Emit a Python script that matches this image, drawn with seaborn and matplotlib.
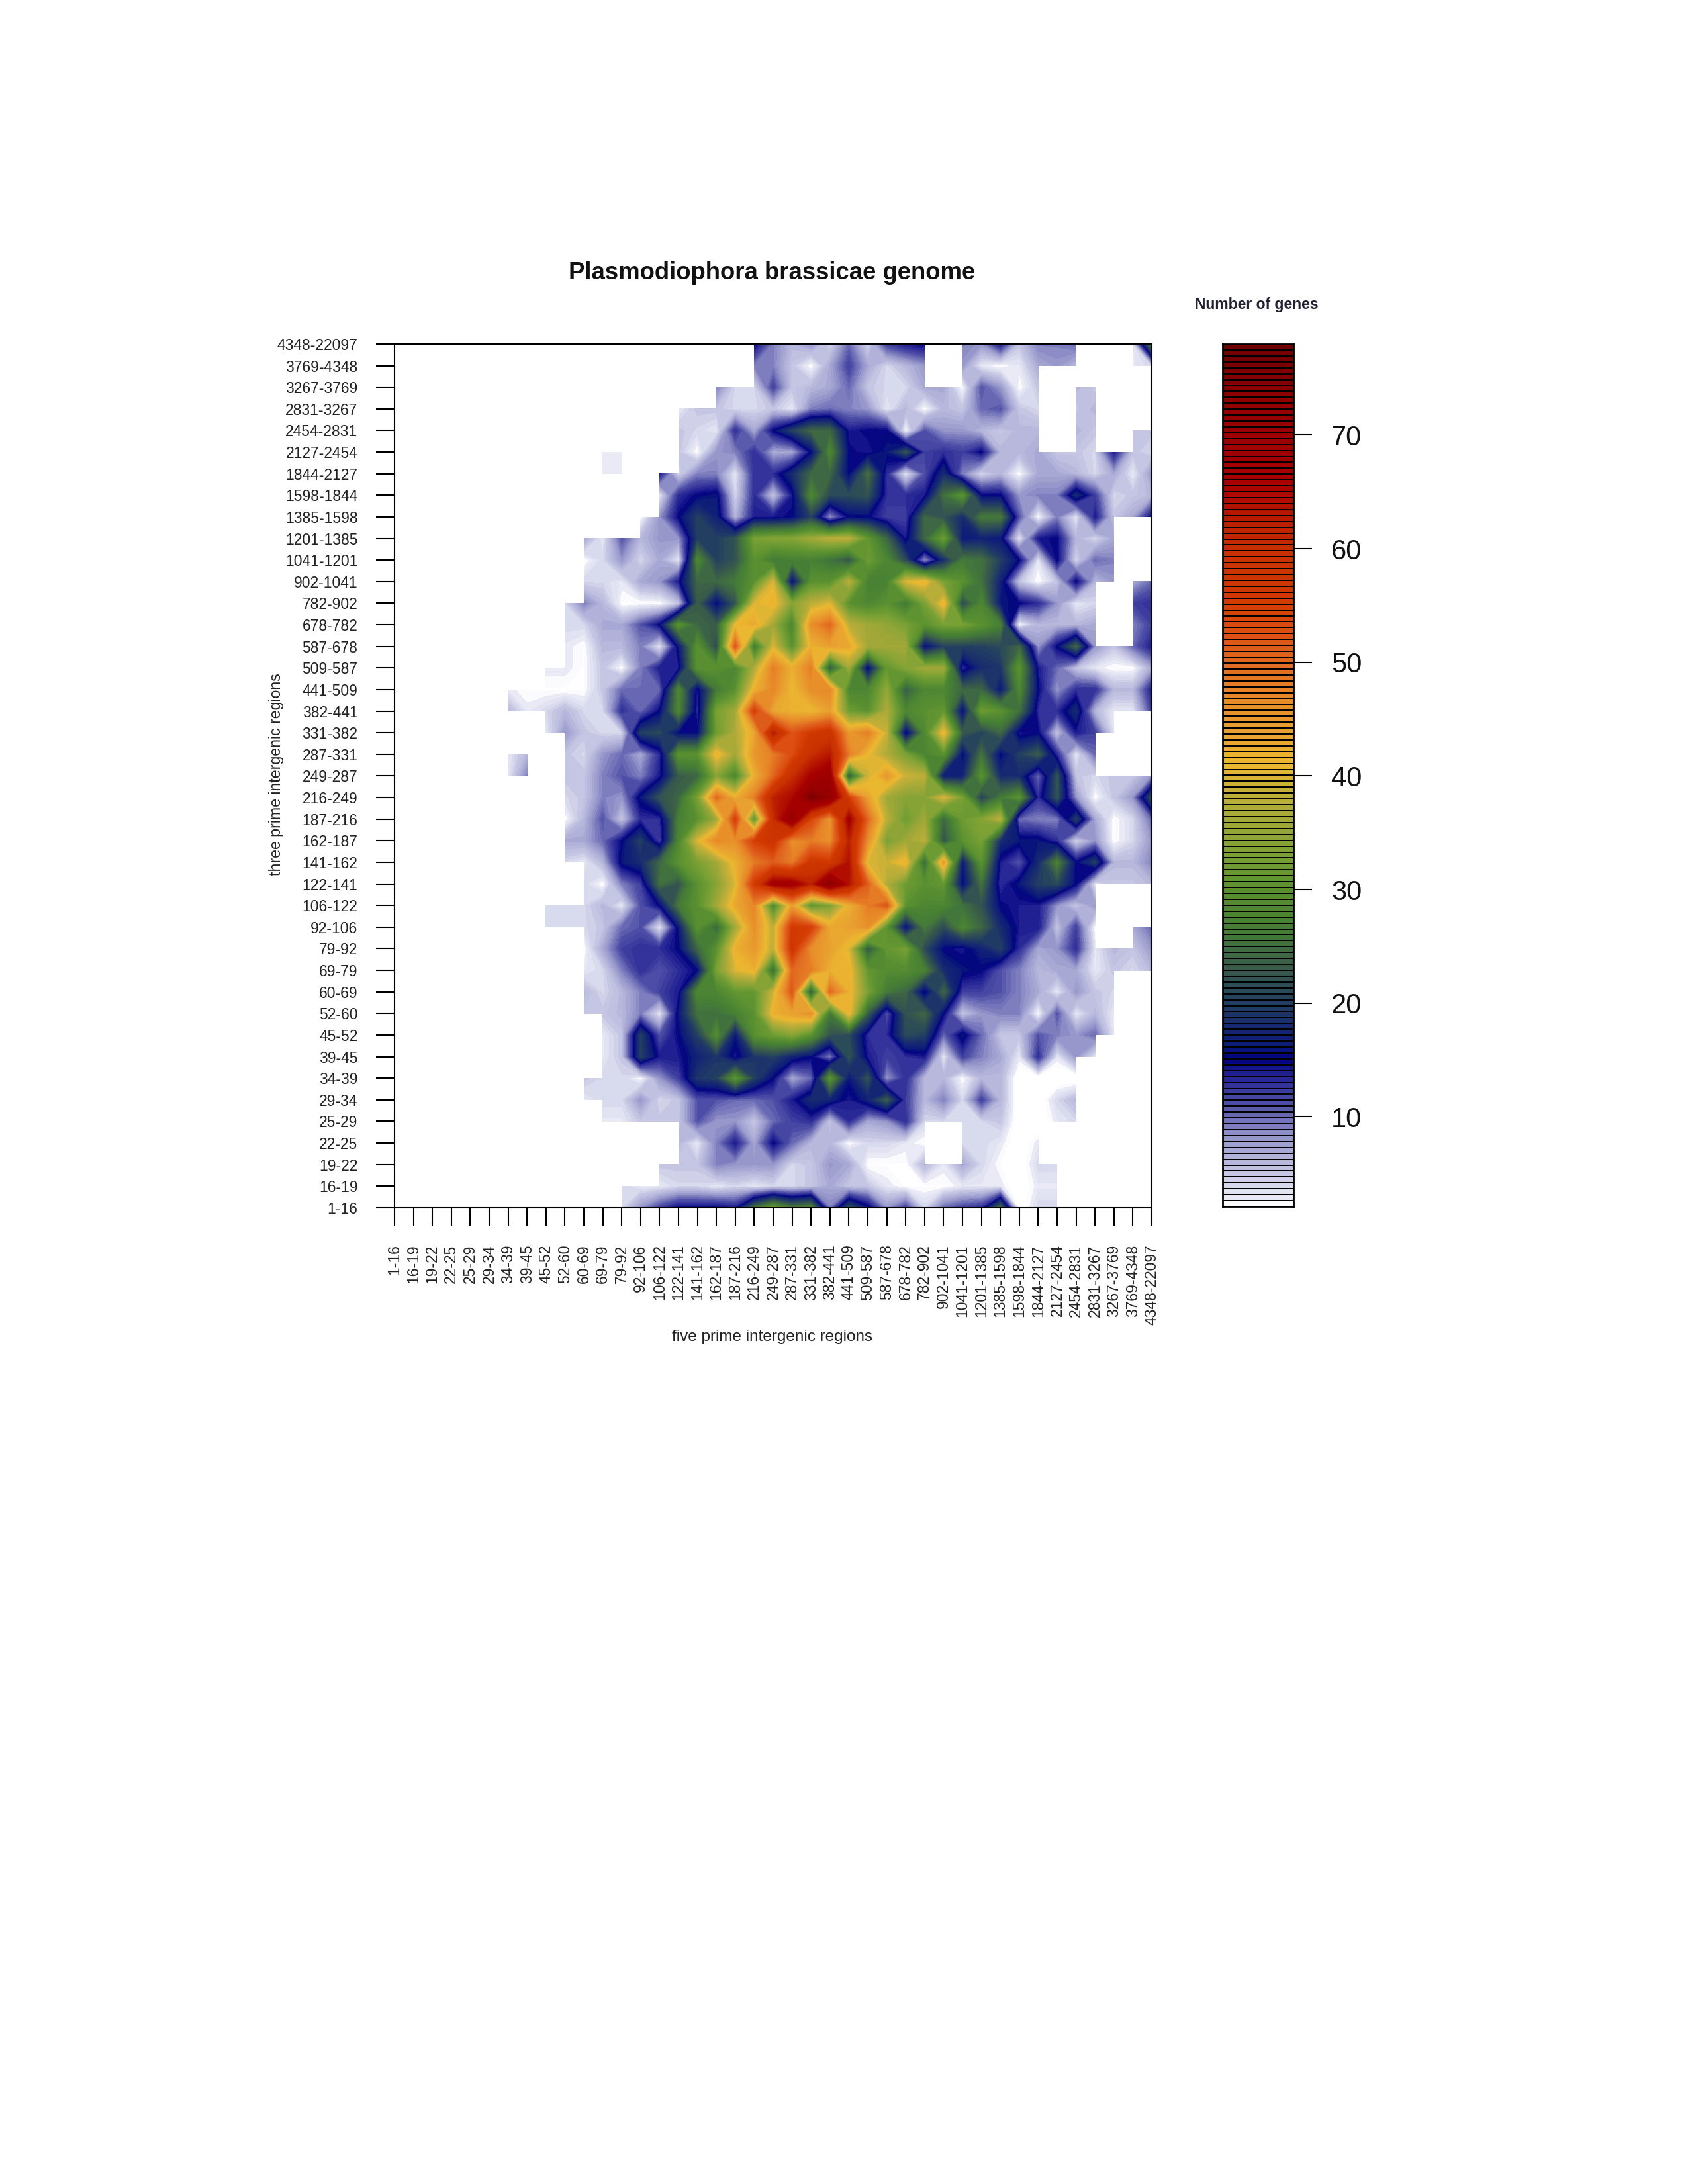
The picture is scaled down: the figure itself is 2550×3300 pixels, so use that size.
import matplotlib
matplotlib.use("Agg")
import matplotlib.pyplot as plt
from matplotlib.colors import LinearSegmentedColormap
import numpy as np
import seaborn as sns

N = np.nan

region_bins = ["1-16", "16-19", "19-22", "22-25", "25-29", "29-34", "34-39", "39-45", "45-52", "52-60",
               "60-69", "69-79", "79-92", "92-106", "106-122", "122-141", "141-162", "162-187", "187-216",
               "216-249", "249-287", "287-331", "331-382", "382-441", "441-509", "509-587", "587-678",
               "678-782", "782-902", "902-1041", "1041-1201", "1201-1385", "1385-1598", "1598-1844",
               "1844-2127", "2127-2454", "2454-2831", "2831-3267", "3267-3769", "3769-4348", "4348-22097"]

# gene counts, top row (4348-22097) first.
# the five leftmost columns are empty, so each row starts at 5 prime bin 29-34
gene_rows = [
    [N,N,N,N,N, 3,N,N,3,4,N,4,5,14,15, 9,6,8,4,10,4,12,14,15,N, 9,8,14,5,9,9,10,N,N,3,28],
    [N,N,N,N,N, N,N,N,N,3,N,N,4,N,9, 9,5,2,7,12,7,4,6,8,N, 8,3,2,3,7,8,6,N,N,3,4],
    [N,N,N,N,N, N,N,3,3,3,N,N,9,4,4, 12,5,6,7,10,5,4,4,7,7, 2,11,8,2,5,N,6,5,N,N,4],
    [N,N,N,N,N, N,N,3,N,3,3,5,5,4,4, 5,3,9,10,9,8,3,6,2,6, 5,10,11,5,4,N,5,6,7,5,N],
    [N,N,N,N,N, N,N,2,N,N,5,4,3,13,7, 15,20,24,24,14,15,15,2,11,8, 8,6,5,6,6,N,6,5,N,5,5],
    [N,N,N,N,N, N,3,3,3,N,5,2,8,9,13, 7,7,15,28,15,14,16,22,12,13, 12,15,6,6,7,5,5,4,14,5,4],
    [N,N,N,N,N, 3,3,3,N,14,4,9,9,3,13, 13,18,24,24,15,25,13,3,11,18, 9,4,6,2,7,7,6,4,7,3,8],
    [N,N,N,N,3, N,N,N,N,3,13,15,16,4,13, 5,14,28,21,21,22,13,13,14,25, 30,15,15,8,9,9,18,12,4,5,6],
    [N,N,N,N,N, N,N,N,2,8,15,20,17,6,14, 14,15,20,8,15,15,12,12,24,22, 18,26,26,11,2,9,3,14,5,7,15],
    [N,N,N,N,N, 7,3,11,6,8,8,20,20,22,33, 34,34,36,38,38,31,24,14,24,32, 16,17,16,3,14,15,6,4,7,N,N],
    [N,N,N,N,3, 2,4,8,4,7,3,28,20,22,30, 26,27,27,25,22,32,28,21,8,18, 26,25,20,15,3,15,4,10,9,N,N],
    [N,N,N,N,N, 4,4,3,7,8,14,24,24,26,30, 40,15,30,30,38,27,27,40,42,33, 30,25,17,5,2,5,15,6,8,7,10],
    [N,N,3,5,4, 9,6,2,2,2,5,23,15,22,40, 42,34,38,40,30,28,30,26,33,42, 21,28,16,15,13,8,3,4,N,12,13],
    [N,N,N,N,4, 4,7,7,11,15,30,24,23,41,43, 36,28,46,50,38,36,35,33,30,33, 33,30,27,2,6,6,6,7,N,9,12],
    [3,N,N,N,3, 2,6,6,9,3,16,30,21,52,26, 40,30,42,44,43,36,36,36,15,20, 20,20,21,24,8,15,24,8,5,10,14],
    [3,3,N,3,3, 2,5,2,9,14,14,30,30,28,37, 48,42,48,22,36,14,31,34,36,36, 13,18,19,30,14,10,5,3,2,2,7],
    [N,3,2,2,2, 2,5,10,10,10,28,14,26,30,42, 47,41,46,47,28,28,35,23,28,28, 24,24,16,28,15,8,13,13,6,6,14],
    [N,6,3,4,6, 4,4,13,10,15,28,13,33,36,55, 43,42,41,44,32,30,37,28,30,31, 15,32,30,25,13,13,18,6,3,3,12],
    [N,4,N,3,8, 5,4,4,20,21,15,15,32,37,43, 63,52,56,58,45,48,39,14,28,42, 23,20,24,14,15,5,14,12,3,N,N],
    [N,3,6,N,5, 4,8,10,7,13,30,30,42,36,45, 48,53,60,63,48,41,37,33,28,30, 15,25,15,20,23,13,3,10,N,N,5],
    [N,3,9,N,5, 5,9,11,9,14,23,24,34,28,42, 50,60,66,70,22,39,45,39,38,16, 17,30,18,18,10,22,5,4,5,5,8],
    [2,3,N,N,4, 5,9,8,16,22,24,33,50,42,48, 62,65,76,72,55,44,36,34,34,40, 33,20,26,30,13,22,8,2,5,8,22],
    [N,4,3,N,2, 6,11,5,13,13,27,30,36,55,30, 60,72,54,45,67,50,38,32,36,24, 32,34,38,10,9,9,20,7,2,4,10],
    [N,N,N,N,7, 7,10,15,20,12,28,40,47,46,55, 58,46,48,46,62,46,33,36,38,22, 30,33,18,16,16,13,4,8,2,4,8],
    [N,N,N,N,4, 3,6,16,18,24,30,33,36,42,48, 51,48,57,56,64,40,39,42,24,45, 16,30,14,11,18,27,15,20,6,6,9],
    [N,N,3,6,N, 4,2,9,12,25,22,30,34,40,56, 68,68,62,74,64,51,37,32,30,31, 15,25,13,16,20,21,15,3,5,5,6],
    [N,N,N,4,4, 4,6,3,11,15,26,30,36,43,47, 28,44,30,33,42,48,52,30,28,28, 25,22,15,14,14,8,5,8,N,N,N],
    [N,N,N,4,4, 4,5,10,11,3,16,30,24,36,46, 38,56,55,43,44,46,30,15,26,21, 28,24,18,14,14,5,12,2,N,7,10],
    [N,N,3,N,N, 2,7,12,13,13,15,24,30,42,45, 38,57,46,44,40,22,31,33,21,15, 14,17,20,13,7,8,13,3,6,5,8],
    [N,3,7,N,N, 3,4,9,13,11,13,15,33,40,42, 24,50,48,42,42,31,29,29,27,18, 16,15,11,9,6,7,7,3,5,4,6],
    [N,N,N,N,N, 6,4,6,9,12,14,28,28,31,31, 39,52,22,50,42,33,26,24,14,24, 12,12,11,9,7,3,8,5,4,N,N],
    [N,N,3,3,N, 5,5,6,9,3,16,25,25,27,30, 42,44,46,26,42,23,11,22,24,15, 5,8,9,9,2,11,3,6,3,N,N],
    [N,N,N,7,9, N,3,5,20,11,15,20,29,16,30, 32,34,30,22,21,13,13,21,20,10, 16,10,5,5,11,9,8,10,3,2,3],
    [N,N,N,N,N, N,3,5,20,14,14,17,19,14,19, 20,17,15,9,22,14,12,13,14,3, 12,9,7,3,13,3,8,3,N,N,4],
    [N,N,N,N,N, 5,4,4,2,8,12,19,20,30,20, 15,7,10,30,16,22,8,13,6,6, 2,6,6,1,1,1,1,N,N,N,6],
    [N,N,N,N,N, 3,4,4,8,4,5,11,11,10,10, 11,14,18,17,14,17,23,12,6,9, 4,12,6,1,1,4,6,N,6,7,6],
    [N,N,N,N,N, N,3,3,5,5,5,11,8,8,5, 10,12,13,5,13,7,8,13,4,4, 4,4,5,1,1,3,4,N,N,N,N],
    [N,N,N,N,N, N,N,3,N,N,6,3,9,14,7, 15,10,6,6,2,4,4,3,2,N, 4,4,3,1,3,N,N,N,N,N,N],
    [N,N,N,N,N, N,N,N,N,5,5,5,9,8,8, 8,4,5,8,7,2,2,2,6,3, 7,4,2,1,4,4,5,N,N,N,N],
    [N,N,N,N,N, N,N,4,3,3,4,4,3,4,3, 4,4,5,7,5,5,3,2,2,2, 3,3,3,1,3,3,N,N,N,N,N],
    [N,N,N,N,N, N,N,4,8,12,15,15,15,14,25, 32,26,28,9,22,16,8,12,4,10, 12,13,25,1,4,4,N,N,N,N,N],
]
bad = [(i, len(r)) for i, r in enumerate(gene_rows) if len(r) != 36]
assert not bad, bad

# colour key
key_values = [2.1, 3, 4, 5, 6, 7, 8, 9, 10, 11, 12, 13, 14, 15, 16, 18, 20, 21, 23, 25, 27, 30, 33, 36,
              39, 41, 44, 47, 50, 53, 56, 60, 63, 66, 72, 78]
key_colors = ["#ffffff", "#e6e6f4", "#d6d8ec", "#c4c4e2", "#b8b8dc", "#a8a8d4", "#9898cc", "#8080c0", "#6a6ab4",
              "#5050a8", "#4040a0", "#2c2c98", "#1a1a90", "#000080", "#0a1a7a", "#182a70", "#224060", "#2a4a5a",
              "#385a4a", "#40703e", "#488034", "#5a9030", "#78a034", "#a0a838", "#c8b038", "#ecb830", "#e8a030",
              "#e88828", "#e06820", "#dc4c10", "#d03800", "#c83000", "#b81800", "#a80000", "#960000", "#700000"]
key_ticks = [10, 20, 30, 40, 50, 60, 70]

sns.set_theme(style="white")
plt.rcParams["font.family"] = ["Liberation Sans", "DejaVu Sans"]

W, H = 2550, 3300
fig = plt.figure(figsize=(W / 100, H / 100), dpi=100)

def box(x0, x1, y0, y1):
    return [x0 / W, 1 - y1 / H, (x1 - x0) / W, (y1 - y0) / H]

z = np.full((41, 41), np.nan)
z[:, 5:] = np.array(gene_rows, dtype=float)[::-1]

kmin, kmax = key_values[0], key_values[-1]
cmap = LinearSegmentedColormap.from_list(
    "genes", [((v - kmin) / (kmax - kmin), c) for v, c in zip(key_values, key_colors)], N=512)
levels = np.linspace(kmin, kmax, 147)
mids = (levels[:-1] + levels[1:]) / 2

ax = fig.add_axes(box(596, 1740, 520, 1825))
ax.contourf(np.arange(41), np.arange(41), z, levels=levels, cmap=cmap, vmin=kmin, vmax=kmax,
            corner_mask=False, antialiased=False)
ax.set_xlim(0, 40)
ax.set_ylim(0, 40)
ax.set_xticks(np.arange(41))
ax.set_yticks(np.arange(41))
ax.set_xticklabels(region_bins, rotation=90, fontsize=16.5, color="#222222")
ax.set_yticklabels(region_bins, fontsize=16.5, color="#222222")
ax.tick_params(axis="both", bottom=True, left=True, length=20, width=1.5, color="black", pad=20)
for s in ax.spines.values():
    s.set_visible(True)
    s.set_color("black")
    s.set_linewidth(1.5)
for lab in ax.get_xticklabels():
    lab.set_verticalalignment("top")

fig.text(1166 / W, 1 - 413 / H, "Plasmodiophora brassicae genome", fontsize=26.3, fontweight="bold",
         ha="center", va="center", color="#111111")
fig.text(1167 / W, 1 - 2020 / H, "five prime intergenic regions", fontsize=17.5, ha="center", va="center",
         color="#222222")
fig.text(417 / W, 1 - 1170 / H, "three prime intergenic regions", fontsize=16.7, rotation=90, ha="center",
         va="center", color="#222222")
fig.text(1898 / W, 1 - 460 / H, "Number of genes", fontsize=16.5, fontweight="bold", ha="center", va="center",
         color="#222233")

# colour key drawn as a one column heatmap, top level first
cax = fig.add_axes(box(1847, 1954, 520, 1823))
sns.heatmap(mids[::-1].reshape(-1, 1), ax=cax, cmap=cmap, vmin=kmin, vmax=kmax, cbar=False,
            linewidths=1.2, linecolor="black", xticklabels=False, yticklabels=False)
step = levels[1] - levels[0]
cax.yaxis.tick_right()
cax.set_yticks([(kmax - v) / step for v in key_ticks])
cax.set_yticklabels([str(v) for v in key_ticks], rotation=0, fontsize=30, color="#111111")
cax.tick_params(axis="y", right=True, left=False, length=20, width=1.5, color="black", pad=21)
for s in cax.spines.values():
    s.set_visible(True)
    s.set_color("black")
    s.set_linewidth(2)

fig.savefig("out.png", dpi=100, facecolor="white")
